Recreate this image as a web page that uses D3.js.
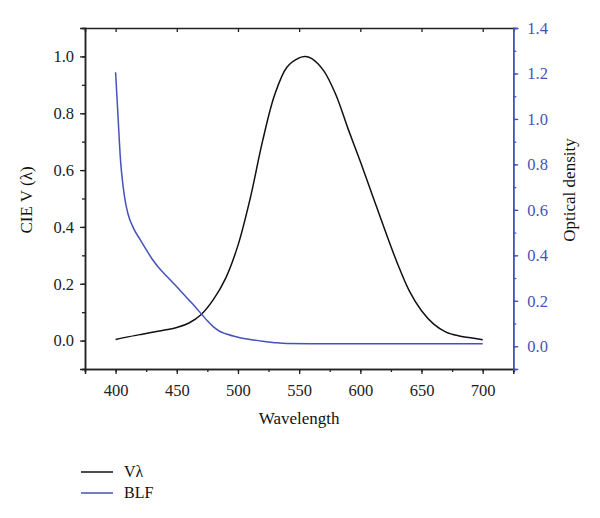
<!DOCTYPE html>
<html><head><meta charset="utf-8">
<script src="https://cdn.jsdelivr.net/npm/d3@7/dist/d3.min.js"></script>
<style>body{margin:0;background:#fff}svg{display:block}text{font-family:"Liberation Serif","Times New Roman",serif}</style>
</head><body><svg id="c" width="600" height="518"></svg>
<script>
const vWavelengths = [400,410,420,430,440,450,460,470,480,490,500,510,520,530,540,550,555,560,570,580,590,600,610,620,630,640,650,660,670,680,690,700];
const vValues      = [0.004,0.013,0.021,0.029,0.037,0.046,0.062,0.092,0.145,0.220,0.335,0.500,0.700,0.865,0.962,0.995,1.000,0.993,0.950,0.865,0.745,0.630,0.510,0.390,0.275,0.175,0.105,0.058,0.030,0.017,0.010,0.003];
const blfWavelengths = [400,402,404,406,408,410,415,420,425,430,435,440,445,450,455,460,465,470,475,480,485,490,500,510,520,530,540,560,600,650,700];
const blfValues      = [1.205,1.01,0.82,0.71,0.635,0.585,0.515,0.47,0.425,0.383,0.348,0.318,0.29,0.262,0.232,0.203,0.174,0.143,0.112,0.085,0.066,0.055,0.040,0.030,0.022,0.016,0.012,0.011,0.011,0.011,0.011];
const xTicks = [400,450,500,550,600,650,700];
const yLeftTicks = [0.0,0.2,0.4,0.6,0.8,1.0];
const yRightTicks = [0.0,0.2,0.4,0.6,0.8,1.0,1.2,1.4];
const seriesNames = ["Vλ","BLF"];

const BLUE = "#4553b8";
const L = 85, R = 513.3, T = 28, B = 369;
const svg = d3.select("#c");
const x = d3.scaleLinear().domain([375,725]).range([L,R]);
const yL = d3.scaleLinear().domain([-0.1,1.1]).range([B,T]);
const yR = d3.scaleLinear().domain([-0.1,1.4]).range([B,T]);

function styleAxis(g, color){
  g.selectAll("path").attr("stroke",color).attr("stroke-width",1.5);
  g.selectAll("line").attr("stroke",color).attr("stroke-width",1.3);
  g.selectAll("text").attr("fill",color).style("font-size","16.5px");
}
// minor ticks
const xMinor = d3.range(375,726,25);
const yLMinor = d3.range(-0.1,1.1001,0.1).map(v=>+v.toFixed(2));
const yRMinor = d3.range(-0.1,1.4001,0.1).map(v=>+v.toFixed(2));

svg.append("g").attr("transform",`translate(0,${B})`)
  .call(d3.axisBottom(x).tickValues(xMinor).tickSize(3).tickFormat(""))
  .call(g=>styleAxis(g,"#222"));
svg.append("g").attr("transform",`translate(0,${B})`)
  .call(d3.axisBottom(x).tickValues(xTicks).tickSize(5).tickPadding(10).tickFormat(d3.format("d")))
  .call(g=>styleAxis(g,"#222"));
svg.append("g").attr("transform",`translate(0,${T})`)
  .call(d3.axisTop(x).tickValues(xTicks).tickSize(-4).tickFormat(""))
  .call(g=>styleAxis(g,"#222"));

svg.append("g").attr("transform",`translate(${L},0)`)
  .call(d3.axisLeft(yL).tickValues(yLMinor).tickSize(3).tickFormat(""))
  .call(g=>styleAxis(g,"#222"));
svg.append("g").attr("transform",`translate(${L},0)`)
  .call(d3.axisLeft(yL).tickValues(yLeftTicks).tickSize(5).tickPadding(6).tickFormat(d3.format(".1f")))
  .call(g=>styleAxis(g,"#222"));

svg.append("g").attr("transform",`translate(${R},0)`)
  .call(d3.axisRight(yR).tickValues(yRMinor).tickSize(3).tickFormat(""))
  .call(g=>styleAxis(g,BLUE));
svg.append("g").attr("transform",`translate(${R},0)`)
  .call(d3.axisRight(yR).tickValues(yRightTicks).tickSize(5).tickPadding(9).tickFormat(d3.format(".1f")))
  .call(g=>styleAxis(g,BLUE));

// axis titles
svg.append("text").attr("x",(L+R)/2).attr("y",424).attr("text-anchor","middle").style("font-size","17px").attr("fill","#111").text("Wavelength");
svg.append("text").attr("transform","translate(32,200) rotate(-90)").attr("text-anchor","middle").style("font-size","17px").attr("fill","#111").text("CIE V (λ)");
svg.append("text").attr("transform","translate(575,190) rotate(-90)").attr("text-anchor","middle").style("font-size","17px").attr("fill","#111").text("Optical density");

// lines
const vData = vWavelengths.map((w,i)=>[w,vValues[i]]);
const bData = blfWavelengths.map((w,i)=>[w,blfValues[i]]);
svg.append("path").datum(vData).attr("fill","none").attr("stroke","#111").attr("stroke-width",1.5)
  .attr("d",d3.line().x(d=>x(d[0])).y(d=>yL(d[1])).curve(d3.curveCatmullRom.alpha(0.5)));
svg.append("path").datum(bData).attr("fill","none").attr("stroke",BLUE).attr("stroke-width",1.5)
  .attr("d",d3.line().x(d=>x(d[0])).y(d=>yR(d[1])).curve(d3.curveMonotoneX));

// legend
const colors = ["#111",BLUE];
seriesNames.forEach((n,i)=>{
  const y = 472 + i*21;
  svg.append("line").attr("x1",81).attr("x2",113).attr("y1",y).attr("y2",y).attr("stroke",colors[i]).attr("stroke-width",1.5);
  svg.append("text").attr("x",124).attr("y",y+5).style("font-size","16px").attr("fill","#111").text(n);
});
</script></body></html>
